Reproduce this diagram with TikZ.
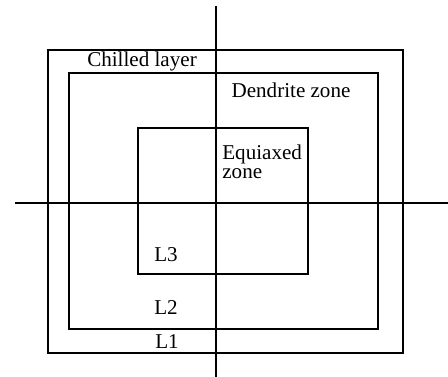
\documentclass[tikz,border=0pt]{standalone}
\usepackage{fontspec}
\setmainfont{Liberation Serif}
\tikzset{
	zone/.style={line width=1pt},
	axis/.style={line width=0.9pt},
	lbl/.style={inner sep=0pt, font=\fontsize{12}{10.5}\selectfont}
}
\begin{document}
\begin{tikzpicture}[x=0.02cm, y=-0.02cm]
	\useasboundingbox (0,0) rectangle (448,377);

	% section axes
	\draw[axis] (15,203) -- (448,203);
	\draw[axis] (216,6) -- (216,377);

	% zones: chilled layer, dendrite zone, equiaxed zone
	\draw[zone] (48,50) rectangle (403,353);
	\draw[zone] (69,73) rectangle (378,329);
	\draw[zone] (138,128) rectangle (308,274);

	\node[lbl] (chill) at (142,61) {Chilled layer};
	\node[lbl] (dendrite) at (291,90) {Dendrite zone};
	\node[lbl, anchor=west, align=left] (equiaxed) at (222,162) {Equiaxed\\zone};

	\node[lbl] (lthree) at (166,255) {L3};
	\node[lbl] (ltwo) at (166,308) {L2};
	\node[lbl] (lone) at (167,342) {L1};
\end{tikzpicture}
\end{document}
